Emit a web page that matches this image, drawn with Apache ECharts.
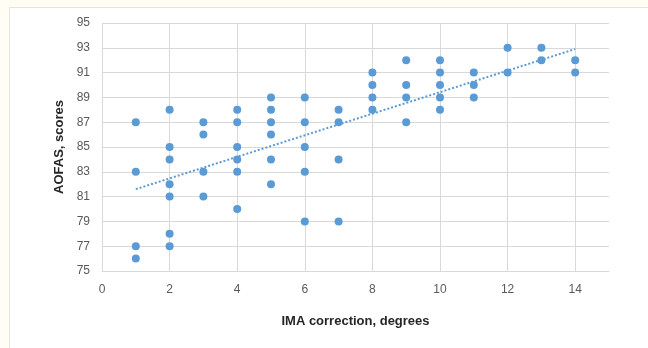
<!DOCTYPE html>
<html>
<head>
<meta charset="utf-8">
<script src="https://cdn.jsdelivr.net/npm/echarts@6/dist/echarts.min.js"></script>
<style>
  html, body { margin: 0; padding: 0; background: #fffdf4; }
  #frame { position: absolute; left: 9px; top: 7px; width: 660px; height: 360px; background: #fff; border: 1px solid #e3e3e3; }
  #chart { position: absolute; left: 0; top: 0; width: 648px; height: 348px; }
</style>
</head>
<body>
<div id="frame"></div>
<div id="chart"></div>
<script>
// IMA correction (degrees) vs AOFAS score, one entry per patient
const imaX = [
  1, 1, 1, 1,
  2, 2, 2, 2, 2, 2, 2,
  3, 3, 3, 3,
  4, 4, 4, 4, 4, 4,
  5, 5, 5, 5, 5, 5,
  6, 6, 6, 6, 6,
  7, 7, 7, 7,
  8, 8, 8, 8,
  9, 9, 9, 9,
  10, 10, 10, 10, 10,
  11, 11, 11,
  12, 12,
  13, 13,
  14, 14
];
const aofasY = [
  87, 83, 77, 76,
  88, 85, 84, 82, 81, 78, 77,
  87, 86, 83, 81,
  88, 87, 85, 84, 83, 80,
  89, 88, 87, 86, 84, 82,
  89, 87, 85, 83, 79,
  88, 87, 84, 79,
  91, 90, 89, 88,
  92, 90, 89, 87,
  92, 91, 90, 89, 88,
  91, 90, 89,
  93, 91,
  93, 92,
  92, 91
];
// linear trendline, endpoints
const trendX = [1, 14];
const trendY = [81.6, 92.9];

const blue = "#5b9bd5";
const chart = echarts.init(document.getElementById("chart"));

chart.setOption({
  animation: false,
  grid: { left: 102, right: 39, top: 23, bottom: 77 },
  xAxis: {
    type: "value",
    min: 0,
    max: 15,
    interval: 2,
    name: "IMA correction, degrees",
    nameLocation: "middle",
    nameGap: 44,
    nameTextStyle: { color: "#262626", fontWeight: "bold", fontSize: 13, fontFamily: "Liberation Sans" },
    axisLine: { show: true, lineStyle: { color: "#d9d9d9" } },
    axisTick: { show: false },
    axisLabel: { color: "#595959", fontSize: 12, margin: 13, fontFamily: "Liberation Sans", showMaxLabel: false },
    splitLine: { show: true, showMaxLine: false, lineStyle: { color: "#d9d9d9" } },
  },
  yAxis: {
    type: "value",
    min: 75,
    max: 95,
    interval: 2,
    name: "AOFAS, scores",
    nameLocation: "middle",
    nameGap: 34,
    nameTextStyle: { color: "#262626", fontWeight: "bold", fontSize: 13, fontFamily: "Liberation Sans" },
    axisLine: { show: false },
    axisTick: { show: false },
    axisLabel: { color: "#595959", fontSize: 12, margin: 12, fontFamily: "Liberation Sans" },
    splitLine: { show: true, lineStyle: { color: "#d9d9d9" } },
  },
  series: [
    {
      type: "scatter",
      symbolSize: 8,
      itemStyle: { color: blue, opacity: 1 },
      data: imaX.map((x, i) => [x, aofasY[i]]),
      z: 3,
    },
    {
      type: "line",
      showSymbol: false,
      data: trendX.map((x, i) => [x, trendY[i]]),
      lineStyle: { color: blue, width: 2, type: [2, 2] },
      z: 2,
    },
  ],
});
</script>
</body>
</html>
